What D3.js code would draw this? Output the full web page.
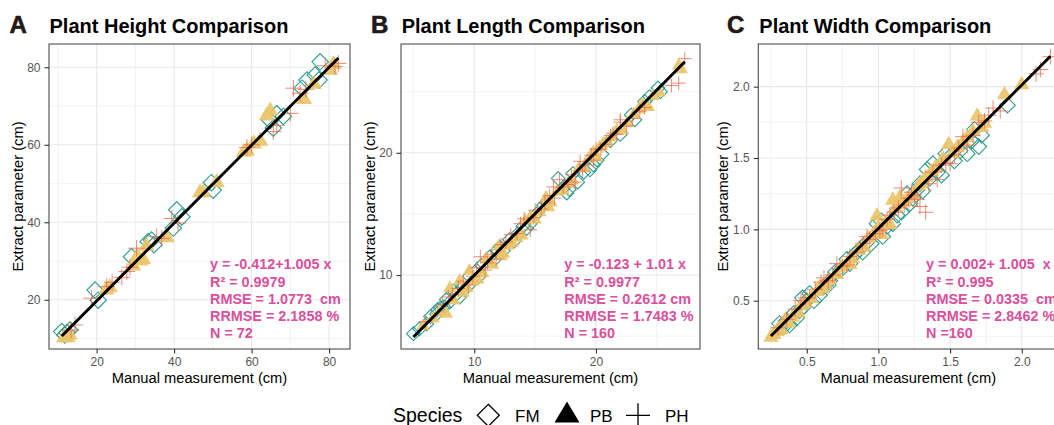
<!DOCTYPE html>
<html>
<head>
<meta charset="utf-8">
<script src="https://cdn.jsdelivr.net/npm/d3@7"></script>
<style>
  body { margin: 0; background: #fff; }
  svg { display: block; font-family: "Liberation Sans", Arial, sans-serif; }
</style>
</head>
<body>
<svg id="chart" width="1054" height="425"></svg>
<script>
// ---- data: [manual, extracted] ----
const species = ['FM', 'PB', 'PH'];

const heightFM = [[11.0,11.8],[11.8,10.9],[13.1,12.2],[12.3,11.5],[19.6,22.5],[20.4,19.9],[29.0,31.1],[33.3,35.0],
  [34.2,35.4],[34.8,34.2],[39.8,38.5],[40.7,43.2],[42.0,41.4],[50.1,48.3],[49.6,50.2],[64.8,66.2],
  [65.6,64.3],[66.5,68.0],[68.2,67.3],[73.0,74.6],[74.3,76.7],[76.4,78.0],[77.4,76.7],[77.7,81.4]];
const heightPB = [[11.6,10.5],[12.5,10.5],[13.0,11.2],[23.4,23.4],[22.5,22.8],[29.4,29.0],[31.2,30.3],[32.0,30.6],
  [30.5,31.5],[32.9,34.1],[38.1,36.3],[46.7,47.9],[47.5,47.9],[51.0,50.5],[58.0,58.4],[58.8,58.7],
  [60.6,60.5],[62.2,61.2],[63.9,67.7],[64.8,69.0],[73.5,72.0],[76.1,75.9],[80.3,79.5],[81.1,81.0]];
const heightPH = [[13.4,12.2],[14.4,13.5],[18.7,20.4],[22.6,23.4],[24.0,24.5],[26.5,25.8],[27.8,27.3],[28.6,28.4],
  [30.3,33.3],[35.5,36.3],[36.8,35.8],[39.4,41.0],[41.0,39.8],[58.8,59.3],[60.0,60.0],[65.6,63.4],
  [66.5,65.0],[70.0,68.1],[70.8,74.6],[72.5,73.3],[74.0,74.3],[79.0,80.4],[82.4,81.0],[81.5,80.2]];

const lengthFM = [[5.0,5.2],[5.5,5.6],[6.1,6.0],[6.4,6.6],[6.9,6.8],[7.2,7.3],[7.5,7.4],[7.7,8.0],[8.0,7.8],
  [8.3,8.7],[8.6,8.5],[8.8,8.2],[9.0,9.0],[9.2,8.8],[9.6,9.9],[9.8,9.4],[10.2,10.4],[10.4,9.9],[10.6,10.8],
  [11.3,11.5],[11.6,11.2],[12.1,12.3],[12.4,12.0],[12.9,12.9],[13.3,12.8],[13.6,13.4],[14.0,14.0],[14.3,13.8],
  [14.6,14.2],[15.1,15.0],[15.7,15.7],[16.0,15.9],[16.9,17.9],[17.4,17.2],[17.6,16.7],[17.8,17.0],[18.1,18.3],
  [18.5,17.6],[19.0,18.4],[19.5,18.6],[19.8,19.0],[20.1,19.4],[20.5,19.9],[21.2,21.0],[22.0,21.5],[22.9,23.1],
  [23.2,22.7],[24.0,24.2],[24.4,24.6],[25.1,25.3],[25.3,25.0],[11.9,11.9],[7.0,7.2]];
const lengthPB = [[5.8,5.9],[6.6,6.5],[7.1,7.0],[7.7,6.9],[8.0,9.0],[8.3,8.0],[8.8,9.6],[9.1,8.6],[9.6,10.4],
  [9.9,9.5],[10.3,9.7],[10.7,10.2],[11.0,11.4],[11.5,10.9],[12.0,12.4],[12.4,11.8],[12.8,12.5],[13.1,12.7],
  [13.5,13.1],[13.9,13.3],[14.2,14.5],[14.6,14.8],[15.0,14.6],[15.4,15.2],[15.9,16.4],[16.3,16.0],[16.8,16.9],
  [17.3,17.0],[17.7,17.5],[18.1,17.8],[18.6,18.8],[19.0,18.9],[19.4,19.6],[19.8,20.1],[20.1,19.7],[20.3,20.5],
  [20.6,20.8],[20.9,21.0],[21.3,21.3],[21.7,21.9],[22.2,21.9],[22.6,22.5],[23.1,23.2],[23.5,23.6],[23.8,24.0],
  [24.3,23.8],[24.7,24.7],[25.2,25.0],[26.8,27.2],[27.0,26.9],[16.1,15.6],[9.4,9.0],[12.2,11.6]];
const lengthPH = [[6.0,6.2],[7.4,7.6],[8.2,8.4],[8.7,8.9],[9.1,9.5],[9.9,9.9],[10.5,11.5],[10.2,10.6],[10.9,10.4],
  [11.4,11.7],[11.8,11.3],[12.6,12.7],[13.0,13.3],[13.5,13.4],[13.8,14.2],[14.1,14.6],[14.6,13.7],[15.0,15.3],
  [15.5,15.4],[16.2,16.5],[16.5,17.2],[17.0,17.8],[17.3,17.2],[17.7,17.4],[18.0,18.2],[18.3,17.6],[18.7,19.3],
  [19.1,19.0],[19.6,19.8],[20.0,20.3],[20.4,20.3],[20.8,20.7],[21.2,21.4],[21.4,21.6],[21.7,21.5],[22.0,22.5],
  [22.0,22.7],[22.5,22.2],[23.0,22.8],[23.6,23.4],[24.0,23.7],[26.2,25.5],[26.8,25.7],[27.3,27.7],[9.5,9.2],
  [11.1,11.0],[12.2,12.5],[14.9,14.7],[16.6,16.3],[18.9,18.5],[19.8,19.4],[7.9,8.2],[15.8,15.9]];

const widthFM = [[0.31,0.34],[0.34,0.32],[0.36,0.36],[0.38,0.33],[0.41,0.41],[0.43,0.38],[0.45,0.43],[0.48,0.46],
  [0.50,0.50],[0.52,0.55],[0.55,0.50],[0.59,0.54],[0.62,0.60],[0.66,0.64],[0.70,0.70],[0.74,0.72],[0.78,0.79],
  [0.80,0.76],[0.84,0.83],[0.87,0.86],[0.89,0.84],[0.92,0.91],[0.95,0.90],[0.99,1.04],[1.02,1.06],[1.03,0.95],
  [1.06,1.02],[1.10,1.04],[1.13,1.10],[1.16,1.12],[1.20,1.25],[1.24,1.22],[1.27,1.28],[1.29,1.32],[1.31,1.27],
  [1.34,1.42],[1.36,1.36],[1.38,1.46],[1.41,1.40],[1.44,1.38],[1.47,1.53],[1.50,1.51],[1.53,1.48],[1.57,1.55],
  [1.62,1.53],[1.65,1.62],[1.67,1.70],[1.70,1.58],[1.72,1.66],[1.90,1.87],[0.47,0.52],[0.65,0.61],[1.22,1.18]];
const widthPB = [[0.25,0.25],[0.27,0.27],[0.29,0.29],[0.32,0.30],[0.35,0.37],[0.40,0.39],[0.44,0.42],[0.49,0.49],
  [0.53,0.52],[0.57,0.57],[0.59,0.60],[0.63,0.62],[0.66,0.65],[0.71,0.69],[0.74,0.74],[0.80,0.76],[0.82,0.80],
  [0.86,0.86],[0.90,0.88],[0.93,0.94],[0.97,0.98],[1.00,1.02],[1.02,0.97],[1.05,1.05],[1.08,1.04],[1.10,1.21],
  [1.12,1.16],[1.15,1.23],[1.17,1.19],[1.20,1.22],[1.24,1.25],[1.28,1.31],[1.30,1.33],[1.33,1.37],[1.37,1.41],
  [1.40,1.44],[1.45,1.50],[1.49,1.60],[1.52,1.54],[1.55,1.58],[1.59,1.62],[1.62,1.65],[1.66,1.69],[1.69,1.80],
  [1.72,1.72],[1.74,1.75],[1.88,1.95],[2.00,2.02],[0.99,1.10],[0.79,0.78],[0.46,0.47],[0.37,0.35],[0.61,0.59]];
const widthPH = [[0.30,0.31],[0.36,0.37],[0.42,0.44],[0.46,0.50],[0.49,0.52],[0.52,0.52],[0.56,0.58],[0.60,0.63],
  [0.62,0.66],[0.68,0.68],[0.71,0.76],[0.75,0.74],[0.78,0.75],[0.80,0.81],[0.85,0.84],[0.89,0.90],[0.94,0.93],
  [0.98,0.97],[1.01,0.99],[1.03,1.00],[1.06,1.07],[1.08,1.10],[1.11,1.12],[1.14,1.15],[1.16,1.29],[1.18,1.17],
  [1.21,1.22],[1.25,1.24],[1.27,1.21],[1.29,1.16],[1.33,1.12],[1.35,1.32],[1.38,1.40],[1.41,1.35],[1.44,1.45],
  [1.47,1.46],[1.50,1.46],[1.53,1.52],[1.56,1.57],[1.59,1.65],[1.62,1.59],[1.66,1.66],[1.70,1.75],[1.74,1.76],
  [1.77,1.80],[1.80,1.85],[1.85,1.83],[2.10,2.09],[2.13,2.12],[2.20,2.21],[0.65,0.64],[0.92,0.95],[1.23,1.26]];

// fitted lines: [intercept, slope]
const heightFit = [-0.412, 1.005];
const lengthFit = [-0.123, 1.01];
const widthFit = [0.002, 1.005];

const heightStats = ['y = -0.412+1.005 x', 'R² = 0.9979', 'RMSE = 1.0773  cm', 'RRMSE = 2.1858 %', 'N = 72'];
const lengthStats = ['y = -0.123 + 1.01 x', 'R² = 0.9977', 'RMSE = 0.2612 cm', 'RRMSE = 1.7483 %', 'N = 160'];
const widthStats = ['y = 0.002+ 1.005  x', 'R² = 0.995', 'RMSE = 0.0335  cm', 'RRMSE = 2.8462 %', 'N =160'];

const heightTicks = [20, 40, 60, 80];
const heightMinor = [10, 30, 50, 70];
const lengthTicks = [10, 20];
const lengthMinor = [5, 15, 25];
const widthTicks = [0.5, 1.0, 1.5, 2.0];
const widthMinor = [0.25, 0.75, 1.25, 1.75];

// ---- layout ----
const colors = {FM: '#2a9d8f', PB: '#e9c46a', PH: '#e76f51'};
const statColor = '#d9509c';
const plotTop = 44, plotBottom = 349;

const panels = [
  {letter: 'A', title: 'Plant Height Comparison', left: 49, right: 350, letterX: 9.5, titleX: 49.5,
   xDomain: [7.7, 85.4], yDomain: [7.3, 86], ticks: heightTicks, minor: heightMinor, fmt: d3.format('d'),
   data: {FM: heightFM, PB: heightPB, PH: heightPH}, fit: heightFit, stats: heightStats,
   statsX: 210, yTitleX: 23, size: 1.18},
  {letter: 'B', title: 'Plant Length Comparison', left: 401, right: 700, letterX: 371, titleX: 401.7,
   xDomain: [3.98, 28.55], yDomain: [3.95, 28.9], ticks: lengthTicks, minor: lengthMinor, fmt: d3.format('d'),
   data: {FM: lengthFM, PB: lengthPB, PH: lengthPH}, fit: lengthFit, stats: lengthStats,
   statsX: 564.3, yTitleX: 375, size: 0.98},
  {letter: 'C', title: 'Plant Width Comparison', left: 758.3, right: 1058.3, letterX: 727, titleX: 759.3,
   xDomain: [0.162, 2.255], yDomain: [0.1615, 2.299], ticks: widthTicks, minor: widthMinor, fmt: d3.format('.1f'),
   data: {FM: widthFM, PB: widthPB, PH: widthPH}, fit: widthFit, stats: widthStats,
   statsX: 926, yTitleX: 728, size: 1.12}
];

function shapePath(sp, s) {
  if (sp === 'FM') return `M0,${-7 * s}L${7 * s},0L0,${7 * s}L${-7 * s},0Z`;
  if (sp === 'PB') return `M0,${-7.2 * s}L${6.9 * s},${4.8 * s}L${-6.9 * s},${4.8 * s}Z`;
  return `M${-7 * s},0H${7 * s}M0,${-7 * s}V${7 * s}`;
}

function styleShape(sel, sp) {
  if (sp === 'FM') sel.attr('fill', 'none').attr('stroke', colors.FM).attr('stroke-width', 1.1);
  else if (sp === 'PB') sel.attr('fill', colors.PB).attr('fill-opacity', 0.92).attr('stroke', 'none');
  else sel.attr('fill', 'none').attr('stroke', colors.PH).attr('stroke-width', 1.0).attr('stroke-opacity', 0.8);
}

const svg = d3.select('#chart');
svg.append('rect').attr('width', 1054).attr('height', 425).attr('fill', '#fff');

panels.forEach(p => {
  const x = d3.scaleLinear().domain(p.xDomain).range([p.left, p.right]);
  const y = d3.scaleLinear().domain(p.yDomain).range([plotBottom, plotTop]);
  const g = svg.append('g');

  const clipId = 'clip' + p.letter;
  g.append('clipPath').attr('id', clipId).append('rect')
    .attr('x', p.left).attr('y', plotTop).attr('width', p.right - p.left).attr('height', plotBottom - plotTop);

  // grid
  const grid = g.append('g');
  grid.selectAll('line.vminor').data(p.minor).join('line')
    .attr('x1', d => x(d)).attr('x2', d => x(d)).attr('y1', plotTop).attr('y2', plotBottom)
    .attr('stroke', '#f0f0f0').attr('stroke-width', 0.8);
  grid.selectAll('line.hminor').data(p.minor).join('line')
    .attr('y1', d => y(d)).attr('y2', d => y(d)).attr('x1', p.left).attr('x2', p.right)
    .attr('stroke', '#f0f0f0').attr('stroke-width', 0.8);
  grid.selectAll('line.vmajor').data(p.ticks).join('line')
    .attr('x1', d => x(d)).attr('x2', d => x(d)).attr('y1', plotTop).attr('y2', plotBottom)
    .attr('stroke', '#e8e8e8').attr('stroke-width', 1.1);
  grid.selectAll('line.hmajor').data(p.ticks).join('line')
    .attr('y1', d => y(d)).attr('y2', d => y(d)).attr('x1', p.left).attr('x2', p.right)
    .attr('stroke', '#e8e8e8').attr('stroke-width', 1.1);

  // points
  const pts = g.append('g').attr('clip-path', `url(#${clipId})`);
  species.forEach(sp => {
    const sel = pts.append('g').selectAll('path').data(p.data[sp]).join('path')
      .attr('transform', d => `translate(${x(d[0])},${y(d[1])})`)
      .attr('d', shapePath(sp, p.size));
    styleShape(sel, sp);
  });

  // fitted line across the observed range
  const allX = species.flatMap(sp => p.data[sp].map(d => d[0]));
  const xr = d3.extent(allX);
  const line = d3.line().x(d => x(d)).y(d => y(p.fit[0] + p.fit[1] * d));
  pts.append('path').attr('d', line(xr))
    .attr('fill', 'none').attr('stroke', '#000').attr('stroke-width', 2.9);

  // border
  g.append('rect').attr('x', p.left).attr('y', plotTop)
    .attr('width', p.right - p.left).attr('height', plotBottom - plotTop)
    .attr('fill', 'none').attr('stroke', '#4d4d4d').attr('stroke-width', 1.1);

  // axes
  const xAxis = g.append('g').attr('transform', `translate(0,${plotBottom})`)
    .call(d3.axisBottom(x).tickValues(p.ticks).tickFormat(p.fmt).tickSize(4.5).tickPadding(3.5));
  const yAxis = g.append('g').attr('transform', `translate(${p.left},0)`)
    .call(d3.axisLeft(y).tickValues(p.ticks).tickFormat(p.fmt).tickSize(4.5).tickPadding(4));
  [xAxis, yAxis].forEach(a => {
    a.select('.domain').remove();
    a.selectAll('line').attr('stroke', '#333').attr('stroke-width', 1.1);
    a.selectAll('text').attr('fill', '#555').attr('font-size', 12)
      .attr('font-family', '"Liberation Sans", Arial, sans-serif');
  });

  // axis titles
  g.append('text').attr('x', (p.left + p.right) / 2).attr('y', 382.5)
    .attr('text-anchor', 'middle').attr('font-size', 14.7).attr('fill', '#000')
    .text('Manual measurement (cm)');
  g.append('text').attr('transform', `translate(${p.yTitleX},${(plotTop + plotBottom) / 2}) rotate(-90)`)
    .attr('text-anchor', 'middle').attr('font-size', 14.7).attr('fill', '#000')
    .text('Extract parameter (cm)');

  // panel letter + title
  g.append('text').attr('x', p.letterX).attr('y', 33).attr('font-size', 24)
    .attr('font-weight', 'bold').attr('fill', '#231815')
    .attr('stroke', '#231815').attr('stroke-width', 0.6).text(p.letter);
  g.append('text').attr('x', p.titleX).attr('y', 33).attr('font-size', 20)
    .attr('font-weight', 'bold').attr('fill', '#000').text(p.title);

  // statistics
  g.append('g').selectAll('text').data(p.stats).join('text')
    .attr('x', p.statsX).attr('y', (d, i) => 269.2 + i * 17.3)
    .attr('font-size', 14.4).attr('font-weight', 'bold').attr('fill', statColor)
    .style('white-space', 'pre')
    .text(d => d);
});

// legend
const legend = svg.append('g');
legend.append('text').attr('x', 393).attr('y', 422).attr('font-size', 19.5).attr('fill', '#000').text('Species');
const keyX = [488.3, 567, 638];
const labelX = [515, 590, 665];
const keyShape = {
  FM: 'M0,-11L11,0L0,11L-11,0Z',
  PB: 'M0,-11.5L12.5,9.5L-12.5,9.5Z',
  PH: 'M-12,0H12M0,-12V12'
};
species.forEach((sp, i) => {
  const k = legend.append('path').attr('d', keyShape[sp])
    .attr('transform', `translate(${keyX[i]},${sp === 'PB' ? 413 : 415.3})`);
  if (sp === 'PB') k.attr('fill', '#000');
  else k.attr('fill', 'none').attr('stroke', '#000').attr('stroke-width', 1.3);
  legend.append('text').attr('x', labelX[i]).attr('y', 421.7).attr('font-size', 17)
    .attr('fill', '#000').text(sp);
});
</script>
</body>
</html>
